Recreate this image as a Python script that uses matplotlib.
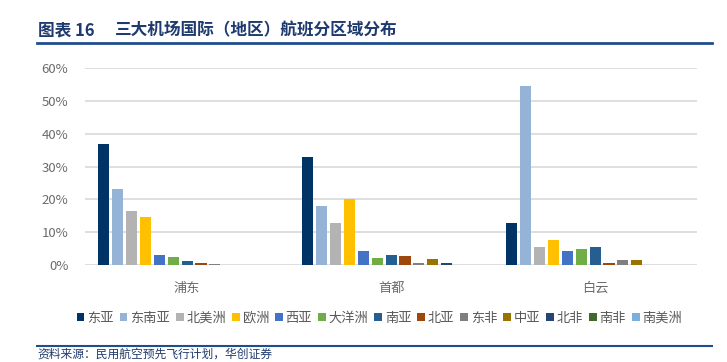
import matplotlib.pyplot as plt
import numpy as np
from matplotlib.lines import Line2D

plt.rcParams['font.family'] = ['Noto Sans CJK SC', 'DejaVu Sans']

airports = ['浦东', '首都', '白云']
regions = ['东亚', '东南亚', '北美洲', '欧洲', '西亚', '大洋洲', '南亚',
           '北亚', '东非', '中亚', '北非', '南非', '南美洲']
colors = ['#003366', '#95B3D7', '#B3B3B3', '#FFC000', '#4472C4', '#70AD47',
          '#255E91', '#9E480E', '#7F7F7F', '#997300', '#264478', '#43682B',
          '#7CAFDD']

# share of international flights (%) per region, order: 浦东, 首都, 白云
dong_ya = [37.0, 32.9, 12.7]
dongnan_ya = [23.1, 18.1, 54.6]
beimei = [16.6, 12.9, 5.6]
ouzhou = [14.5, 20.1, 7.6]
xi_ya = [3.0, 4.2, 4.4]
dayang = [2.4, 2.0, 4.8]
nan_ya = [1.2, 3.0, 5.6]
bei_ya = [0.6, 2.6, 0.6]
dong_fei = [0.4, 0.5, 1.6]
zhong_ya = [0.1, 1.8, 1.4]
bei_fei = [0.1, 0.6, 0.1]
nan_fei = [0.05, 0.1, 0.05]
nanmei = [0.05, 0.1, 0.05]

series = [dong_ya, dongnan_ya, beimei, ouzhou, xi_ya, dayang, nan_ya,
          bei_ya, dong_fei, zhong_ya, bei_fei, nan_fei, nanmei]

fig = plt.figure(figsize=(7.27, 3.62), dpi=100)
ax = fig.add_axes([0.117, 0.268, 0.842, 0.543])

x = np.arange(len(airports))
slot = 0.068
for i, vals in enumerate(series):
    ax.bar(x + (i - 6) * slot, vals, slot * 0.8, color=colors[i],
           label=regions[i], zorder=3)

ax.set_xlim(-0.5, 2.5)
ax.set_ylim(0, 60)
ax.set_yticks(range(0, 61, 10))
ax.set_yticklabels(['{}%'.format(v) for v in range(0, 61, 10)])
ax.set_xticks(x)
ax.set_xticklabels(airports)
ax.grid(axis='y', color='#D9D9D9', linewidth=1.2, zorder=0)
for s in ax.spines.values():
    s.set_visible(False)
ax.tick_params(axis='both', length=0, colors='#6b6b6b', labelsize=9.5)
ax.tick_params(axis='x', pad=12)
ax.tick_params(axis='y', pad=12)

handles, labels = ax.get_legend_handles_labels()
fig.legend(handles, labels, loc='center', bbox_to_anchor=(0.522, 0.121),
           ncol=13, frameon=False, fontsize=9.5, handlelength=0.6,
           handleheight=0.6, handletextpad=0.2, columnspacing=0.45,
           labelcolor='#595959')

# header and footer
fig.text(0.052, 0.917, '图表 16', fontsize=12, fontweight='bold',
         color='#1F3A6E', va='center')
fig.text(0.158, 0.917, '三大机场国际（地区）航班分区域分布', fontsize=12,
         fontweight='bold', color='#1F3A6E', va='center')
fig.add_artist(Line2D([0.051, 0.979], [0.882, 0.882], color='#1F4E8C', linewidth=2))
fig.add_artist(Line2D([0.051, 0.979], [0.044, 0.044], color='#1F4E8C', linewidth=1.5))
fig.text(0.052, 0.004, '资料来源：民用航空预先飞行计划，华创证券', fontsize=8.5,
         style='italic', color='#1F3A6E', va='bottom')

fig.savefig('out.png', dpi=100)
